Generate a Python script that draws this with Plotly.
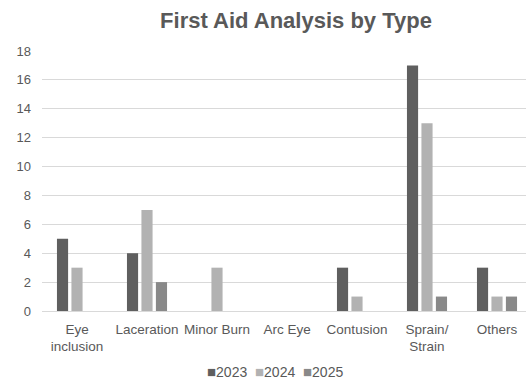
import plotly.graph_objects as go

categories = ["Eye<br>inclusion", "Laceration", "Minor Burn", "Arc Eye", "Contusion", "Sprain/<br>Strain", "Others"]
years = ["2023", "2024", "2025"]
v2023 = [5, 4, 0, 0, 3, 17, 3]
v2024 = [3, 7, 3, 0, 1, 13, 1]
v2025 = [0, 2, 0, 0, 0, 1, 1]
colors = ["#5f5f5f", "#b2b2b2", "#898989"]

FONT = "Liberation Sans, Arial, sans-serif"

fig = go.Figure()
for name, vals, c in zip(years, [v2023, v2024, v2025], colors):
    fig.add_trace(go.Bar(x=categories, y=vals, name=name, showlegend=False,
                         marker=dict(color=c, line=dict(width=0))))

legend_text = "  ".join(
    f'<span style="color:{c};font-size:15px">■</span>{y}' for y, c in zip(years, colors)
)
fig.add_annotation(text=legend_text, xref="paper", yref="paper", x=(275-42)/484, y=-60/260,
                   xanchor="center", yanchor="middle", showarrow=False,
                   font=dict(family=FONT, size=14, color="#595959"))

fig.update_layout(
    width=526, height=383,
    margin=dict(l=42, r=0, t=51, b=72),
    paper_bgcolor="white", plot_bgcolor="white",
    barmode="group", bargap=0.38, bargroupgap=0.23,
    font=dict(family=FONT, size=13.5, color="#595959"),
    title=dict(text="<b>First Aid Analysis by Type</b>", x=296/526, xanchor="center",
               y=1-20/383, yanchor="middle", font=dict(family=FONT, size=22, color="#595959")),
    xaxis=dict(showgrid=False, showline=False, ticks="", tickfont=dict(size=13.5),
               ticklabelstandoff=8, range=[-0.5, -0.5 + 484/70]),
    yaxis=dict(range=[0, 18], dtick=2, showgrid=True, gridcolor="#d9d9d9", gridwidth=1,
               zeroline=True, zerolinecolor="#d9d9d9", zerolinewidth=1, ticks="",
               tickfont=dict(size=13), ticklabelstandoff=10),
)

fig.write_html("out.html")
